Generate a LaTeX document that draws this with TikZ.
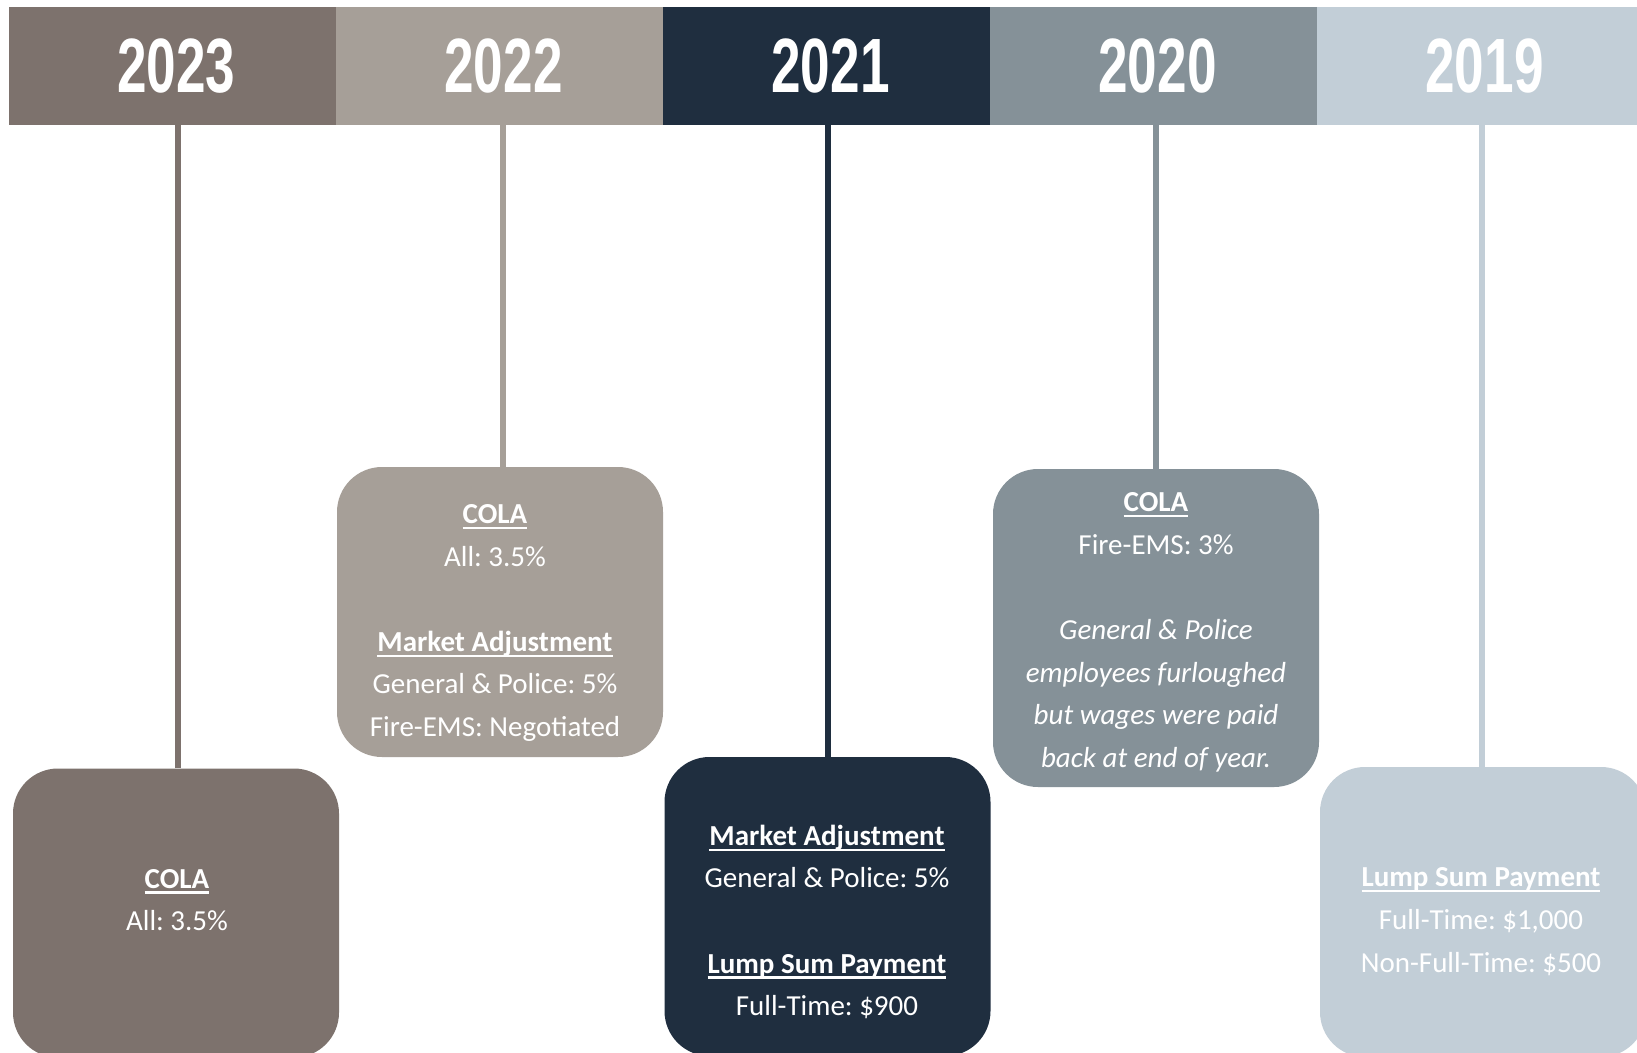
\documentclass[tikz,border=0pt]{standalone}
\usepackage{fontspec}
\usepackage{graphicx}
\setmainfont{Carlito}
\newfontfamily\yearfont{Liberation Sans}
\definecolor{cA}{HTML}{7D726D}
\definecolor{cB}{HTML}{A69F98}
\definecolor{cC}{HTML}{1F2E3F}
\definecolor{cD}{HTML}{859198}
\definecolor{cE}{HTML}{C2CED7}
\newcommand\yr[1]{\hspace*{7pt}\raisebox{-8pt}{\scalebox{0.69}[1]{#1}}}
\newcommand\hd[1]{\setbox0\hbox{\textbf{#1}}\rlap{\rule[-5.5pt]{\wd0}{2.2pt}}\box0}
\frenchspacing
\begin{document}
\begin{tikzpicture}[x=1pt,y=-1pt,
  head/.style={rectangle, minimum width=327.5pt, minimum height=118pt, inner sep=0pt, text=white,
    font=\yearfont\fontsize{77}{77}\selectfont\bfseries},
  card/.style={rectangle, rounded corners=45pt, minimum width=326pt, inner sep=0pt},
  body/.style={text=white, align=center, inner sep=0pt, font=\fontsize{29}{42.6}\selectfont\frenchspacing},
  stem/.style={line width=6pt}]
\useasboundingbox (0,0) rectangle (1637,1052);
\fill[white] (0,0) rectangle (1637,1052);
\clip (0,0) rectangle (1637,1052);

% header
\node[head, fill=cA] (h23) at (172.75,66) {\yr{2023}};
\node[head, fill=cB] (h22) at (500,66) {\yr{2022}};
\node[head, fill=cC] (h21) at (827,66) {\yr{2021}};
\node[head, fill=cD] (h20) at (1154,66) {\yr{2020}};
\node[head, fill=cE] (h19) at (1481,66) {\yr{2019}};

% cards
\node[card, fill=cA, minimum height=289pt] (b23) at (176,913) {};
\node[card, fill=cB, minimum height=290pt] (b22) at (500,612) {};
\node[card, fill=cC, minimum height=299pt] (b21) at (827.5,906.5) {};
\node[card, fill=cD, minimum height=318pt] (b20) at (1156,628) {};
\node[card, fill=cE, minimum height=290pt] (b19) at (1483,912) {};

% stems
\draw[stem, cA] ([xshift=2pt]b23.north) -- ([xshift=2pt]b23.north |- h23.south);
\draw[stem, cB] ([xshift=3pt]b22.north) -- ([xshift=3pt]b22.north |- h22.south);
\draw[stem, cC] (b21.north) -- (b21.north |- h21.south);
\draw[stem, cD] (b20.north) -- (b20.north |- h20.south);
\draw[stem, cE] ([xshift=-1.5pt]b19.north) -- ([xshift=-1.5pt]b19.north |- h19.south);

% texts
\node[body] (t23) at (177,900) {\hd{COLA}\\All: 3.5\%};
\node[body] (t22) at (495,623) {\hd{COLA}\\All: 3.5\%\\[42.6pt]\hd{Market Adjustment}\\General \& Police: 5\%\\Fire-EMS: Negotiated};
\node[body] (t21) at (827,922) {\hd{Market Adjustment}\\General \& Police: 5\%\\[42.6pt]\hd{Lump Sum Payment}\\Full-Time: \$900};
\node[body] (t20) at (1156,632.5) {\hd{COLA}\\Fire-EMS: 3\%\\[42.6pt]\textit{General \& Police}\\\textit{employees furloughed}\\\textit{but wages were paid}\\\textit{back at end of year.}};
\node[body] (t19) at (1481,921.5) {\hd{Lump Sum Payment}\\Full-Time: \$1,000\\Non-Full-Time: \$500};
\end{tikzpicture}
\end{document}
